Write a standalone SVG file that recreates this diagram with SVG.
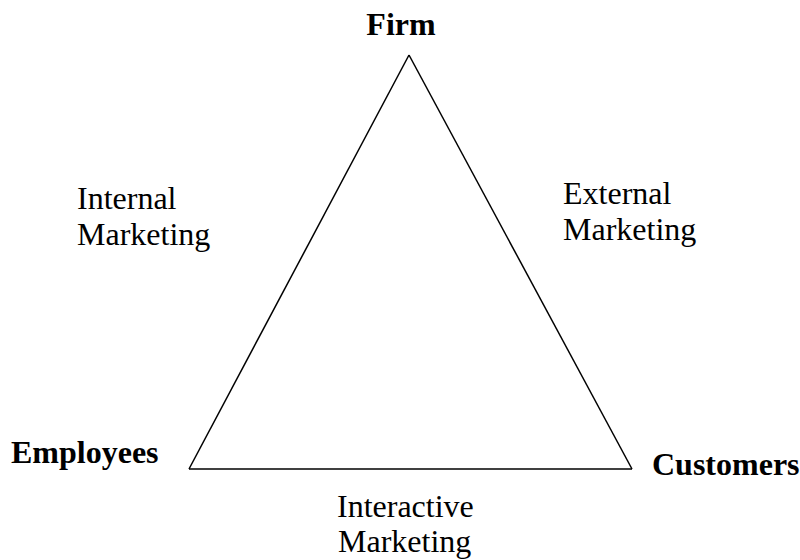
<svg xmlns="http://www.w3.org/2000/svg" width="800" height="560" viewBox="0 0 800 560">
  <style>
    .title { font-family: "Liberation Serif", "Times New Roman", serif; font-size: 32px; font-weight: bold; fill: #000; }
    .label { font-family: "Liberation Serif", "Times New Roman", serif; font-size: 32px; fill: #000; }
    .edge { fill: none; stroke: #000; stroke-width: 1.5; }
  </style>
  <rect width="800" height="560" fill="#fff"/>
  <g id="connectors">
    <line class="edge" x1="409" y1="55" x2="189" y2="469"/>
    <line class="edge" x1="409" y1="55" x2="632" y2="469"/>
    <line class="edge" x1="189" y1="469" x2="632" y2="469"/>
  </g>
  <g id="firm">
    <text class="title" x="401" y="35" text-anchor="middle">Firm</text>
  </g>
  <g id="employees">
    <text class="title" x="11" y="463">Employees</text>
  </g>
  <g id="customers">
    <text class="title" x="652" y="475">Customers</text>
  </g>
  <g id="internal-marketing">
    <text class="label" x="77" y="209">Internal</text>
    <text class="label" x="77" y="245">Marketing</text>
  </g>
  <g id="external-marketing">
    <text class="label" x="563" y="204">External</text>
    <text class="label" x="563" y="240">Marketing</text>
  </g>
  <g id="interactive-marketing">
    <text class="label" x="337" y="517">Interactive</text>
    <text class="label" x="338" y="552">Marketing</text>
  </g>
</svg>
